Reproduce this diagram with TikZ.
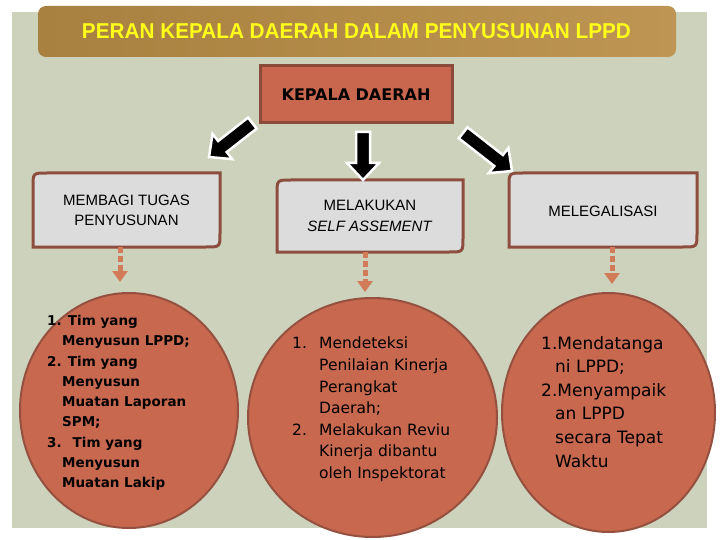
\documentclass[tikz,border=0pt]{standalone}
\usepackage{fontspec}
\usepackage{graphicx}
\setmainfont{Liberation Sans}
\newfontfamily\djv{DejaVu Sans}
\usetikzlibrary{shapes.geometric,arrows.meta}
\definecolor{panelc}{HTML}{CCD2BC}
\definecolor{tbarL}{HTML}{A8803F}
\definecolor{tbarR}{HTML}{BE9552}
\definecolor{titleY}{HTML}{FFFF1A}
\definecolor{kepfill}{HTML}{C9674E}
\definecolor{kepdraw}{HTML}{8A4B3B}
\definecolor{boxfill}{HTML}{DCDCDC}
\definecolor{boxdraw}{HTML}{8D4E3E}
\definecolor{circfill}{HTML}{C8684F}
\definecolor{circdraw}{HTML}{95503F}
\definecolor{dashc}{HTML}{D27B58}
\newcommand\BlkArrow[4]{%
  \begin{scope}[shift={(#1,#2)},rotate=#3]
    \filldraw[fill=black,draw=white,line width=2.5pt,line join=miter]
      (0,0) -- (-17,-16) -- (-17,-7) -- (-#4,-7) -- (-#4,7) -- (-17,7) -- (-17,16) -- cycle;
  \end{scope}}
\newcommand\DiagBox[4]{%
  \filldraw[fill=boxfill,draw=boxdraw,line width=3pt]
    (#1,#4) -- (#1,#2+14) .. controls (#1,#2) .. (#1+14,#2) -- (#3,#2)
    -- (#3,#4-14) .. controls (#3,#4) .. (#3-14,#4) -- cycle;}
\tikzset{
  circst/.style={ellipse,fill=circfill,draw=circdraw,line width=2pt,inner sep=0},
  boxtext/.style={rectangle,inner sep=0,align=center,font=\fontsize{15}{20}\selectfont},
  dasharr/.style={draw=dashc,line width=5pt,dash pattern=on 6pt off 3pt,
    -{Triangle[width=15pt,length=11pt]}},
  lefttext/.style={inner sep=0,align=left,anchor=north west,
    font=\djv\bfseries\fontsize{13.5}{20.3}\selectfont},
  midtext/.style={inner sep=0,align=left,anchor=north west,
    font=\djv\fontsize{15.5}{21.6}\selectfont},
  righttext/.style={inner sep=0,align=left,anchor=north west,
    font=\djv\fontsize{17}{23.6}\selectfont}
}
\begin{document}
\begin{tikzpicture}[x=1pt,y=-1pt]
\useasboundingbox (0,0) rectangle (720,540);
\fill[white] (0,0) rectangle (720,540);
\fill[panelc] (12,12) rectangle (707,528);
% title bar
\shade[left color=tbarL,right color=tbarR,rounded corners=8pt] (38,6) rectangle (676,57);
\node[inner sep=0] (title) at (356.5,31.5)
  {\resizebox{549pt}{15pt}{\color{titleY}\bfseries PERAN KEPALA DAERAH DALAM PENYUSUNAN LPPD}};
% kepala daerah
\node[rectangle,fill=kepfill,draw=kepdraw,line width=3pt,minimum width=192pt,minimum height=57pt,
  font=\djv\bfseries\fontsize{16}{18}\selectfont] (kd) at (356,94.5) {KEPALA DAERAH};
% boxes
\DiagBox{33}{173}{220}{247}
\DiagBox{277}{180}{463}{252}
\DiagBox{509}{173}{697}{247}
\node[boxtext,minimum width=187pt,minimum height=74pt] (b1) at (126.5,210) {MEMBAGI TUGAS\\PENYUSUNAN};
\node[boxtext,minimum width=186pt,minimum height=72pt,font=\fontsize{15}{21}\selectfont] (b2) at (370,216) {MELAKUKAN\\\textit{SELF ASSEMENT}};
\node[boxtext,minimum width=188pt,minimum height=74pt] (b3) at (603,211) {MELEGALISASI};
% block arrows
\BlkArrow{209}{157}{218}{55}
\BlkArrow{363}{180}{-90}{48}
\BlkArrow{512}{171}{-38}{62}
% circles
\node[circst,minimum width=218pt,minimum height=235pt] (c1) at (129,410.5) {};
\node[circst,minimum width=249pt,minimum height=239pt] (c2) at (372.5,417.5) {};
\node[circst,minimum width=213pt,minimum height=239pt] (c3) at (608.5,412.5) {};
% dashed connectors
\coordinate (d1) at (120,247);
\coordinate (d2) at (365,252);
\coordinate (d3) at (612,247);
\draw[dasharr,shorten >=10pt] (d1) -- (d1 |- c1.north);
\draw[dasharr,shorten >=5pt] (d2) -- (d2 |- c2.north);
\draw[dasharr,shorten >=8pt] (d3) -- (d3 |- c3.north);
% circle texts
\node[lefttext] (t1) at (47,315) {1. Tim yang\\
\hspace*{15pt}Menyusun LPPD;\\
2. Tim yang\\
\hspace*{15pt}Menyusun\\
\hspace*{15pt}Muatan Laporan\\
\hspace*{15pt}SPM;\\
3.~ Tim yang\\
\hspace*{15pt}Menyusun\\
\hspace*{15pt}Muatan Lakip};
\node[midtext] (t2) at (292,337) {\makebox[27pt][l]{1.}Mendeteksi\\
\hspace*{27pt}Penilaian Kinerja\\
\hspace*{27pt}Perangkat\\
\hspace*{27pt}Daerah;\\
\makebox[27pt][l]{2.}Melakukan Reviu\\
\hspace*{27pt}Kinerja dibantu\\
\hspace*{27pt}oleh Inspektorat};
\node[righttext] (t3) at (541,336) {1.Mendatanga\\
\hspace*{14pt}ni LPPD;\\
2.Menyampaik\\
\hspace*{14pt}an LPPD\\
\hspace*{14pt}secara Tepat\\
\hspace*{14pt}Waktu};
\end{tikzpicture}
\end{document}
